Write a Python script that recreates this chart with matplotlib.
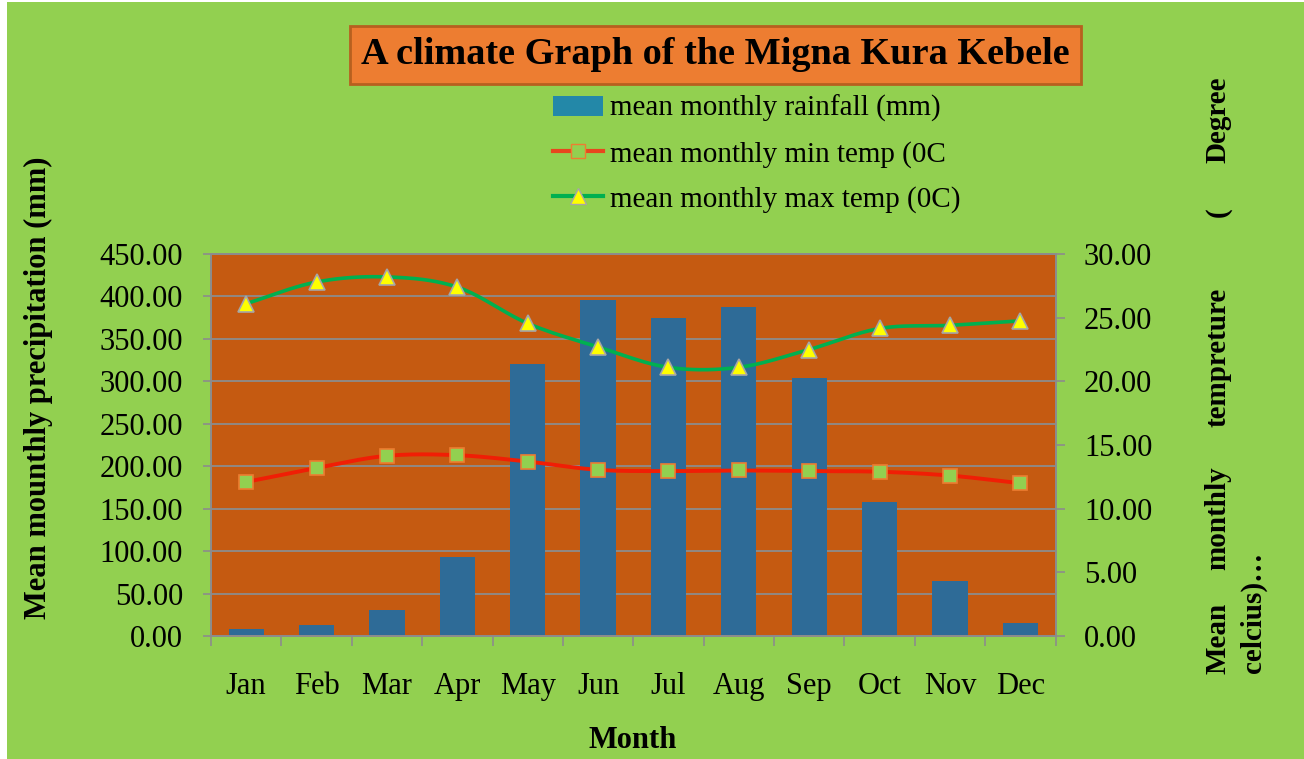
import numpy as np
import matplotlib
matplotlib.use("Agg")
import matplotlib.pyplot as plt
from matplotlib.patches import Rectangle, Patch
from matplotlib.lines import Line2D
from matplotlib.ticker import MultipleLocator, FormatStrFormatter, FixedLocator

plt.rcParams['font.family'] = ['Liberation Serif', 'DejaVu Serif']

months = ["Jan", "Feb", "Mar", "Apr", "May", "Jun", "Jul", "Aug", "Sep", "Oct", "Nov", "Dec"]
rainfall = [8, 12.5, 31, 93, 321, 396, 375, 388, 304, 158, 65, 15]
min_temp = [12.1, 13.2, 14.15, 14.2, 13.7, 13.05, 12.95, 13.0, 12.95, 12.9, 12.6, 12.0]
max_temp = [26.1, 27.8, 28.2, 27.4, 24.55, 22.7, 21.1, 21.1, 22.5, 24.15, 24.4, 24.75]

title = "A climate Graph of the Migna Kura Kebele"
lab_rain = "mean monthly rainfall (mm)"
lab_min = "mean monthly min temp (0C"
lab_max = "mean monthly max temp (0C)"

W, H = 1304, 759
fig = plt.figure(figsize=(W / 100, H / 100), dpi=100)
fig.patch.set_facecolor("white")
fig.patches.append(Rectangle((7 / W, 0), 1 - 7 / W, 1 - 2 / H, transform=fig.transFigure,
                             facecolor="#92D050", edgecolor="none", zorder=-10))


def smooth(xs, ys, n=20):
    """Catmull-Rom curve through the given points (for drawing the smoothed line)."""
    xs = np.asarray(xs, float)
    ys = np.asarray(ys, float)
    px = np.concatenate([[2 * xs[0] - xs[1]], xs, [2 * xs[-1] - xs[-2]]])
    py = np.concatenate([[2 * ys[0] - ys[1]], ys, [2 * ys[-1] - ys[-2]]])
    ox, oy = [], []
    t = np.linspace(0, 1, n, endpoint=False)
    for i in range(1, len(px) - 2):
        for arr, out in ((px, ox), (py, oy)):
            p0, p1, p2, p3 = arr[i - 1], arr[i], arr[i + 1], arr[i + 2]
            out.extend(0.5 * ((2 * p1) + (-p0 + p2) * t + (2 * p0 - 5 * p1 + 4 * p2 - p3) * t ** 2
                              + (-p0 + 3 * p1 - 3 * p2 + p3) * t ** 3))
    ox.append(xs[-1])
    oy.append(ys[-1])
    return np.array(ox), np.array(oy)


ax = fig.add_axes([211 / W, 1 - 636 / H, 844.5 / W, 382 / H])
ax.set_facecolor("#C55A11")
x = np.arange(len(months))
ax.bar(x, rainfall, width=0.5, color="#2E6B97", zorder=2)
ax.set_xlim(-0.5, len(months) - 0.5)
ax.set_ylim(0, 450)
ax.yaxis.set_major_locator(MultipleLocator(50))
ax.yaxis.set_major_formatter(FormatStrFormatter("%.2f"))
ax.grid(axis="y", color="#8C8C8C", lw=1.3, zorder=1)
ax.set_axisbelow(True)
ax.set_xticks(x)
ax.set_xticklabels(months)
ax.xaxis.set_minor_locator(FixedLocator(np.arange(-0.5, len(months), 1.0)))
ax.tick_params(axis="x", which="major", length=0, pad=26, labelsize=22)
ax.tick_params(axis="x", which="minor", length=7, width=1.2, color="#8C8C8C")
ax.tick_params(axis="y", length=6, width=1.2, color="#8C8C8C", pad=14, labelsize=22)
for s in ax.spines.values():
    s.set_color("#8C8C8C")
    s.set_linewidth(1.3)

ax2 = ax.twinx()
ax2.set_ylim(0, 30)
ax2.yaxis.set_major_locator(MultipleLocator(5))
ax2.yaxis.set_major_formatter(FormatStrFormatter("%.2f"))
ax2.tick_params(axis="y", length=6.5, width=1.2, color="#8C8C8C", pad=14, labelsize=22)
for s in ax2.spines.values():
    s.set_color("#8C8C8C")
    s.set_linewidth(1.3)

sx, sy = smooth(x, min_temp)
ax2.plot(sx, sy, color="#F01E05", lw=2.8, zorder=3)
ax2.plot(x, min_temp, ls="none", marker="s", ms=10, mfc="#92D050", mec="#ED7D31", mew=1.2, zorder=4)
sx, sy = smooth(x, max_temp)
ax2.plot(sx, sy, color="#00B050", lw=2.6, zorder=3)
ax2.plot(x, max_temp, ls="none", marker="^", ms=12, mfc="#FFFF00", mec="#A6A6A6", mew=1.2, zorder=4)

# Title
fig.text(715.5 / W, 1 - 55 / H, title, ha="center", va="center", fontsize=27.5, fontweight="bold",
         bbox=dict(boxstyle="square,pad=0.3", facecolor="#ED7D31", edgecolor="#B7601F", lw=2))

# Legend
handles = [
    Patch(facecolor="#2388A8", edgecolor="none"),
    Line2D([0], [0], color="#E8461E", lw=3, marker="s", ms=10, mfc="#92D050", mec="#ED7D31"),
    Line2D([0], [0], color="#00B050", lw=3, marker="^", ms=11, mfc="#FFFF00", mec="#A6A6A6"),
]
fig.legend(handles, [lab_rain, lab_min, lab_max], loc="upper left",
           bbox_to_anchor=(553 / W, 1 - 95 / H), frameon=False, fontsize=21,
           borderpad=0, borderaxespad=0, handlelength=1.7, handleheight=0.7,
           handletextpad=0.25, labelspacing=0.63)

# Axis titles
fig.text(633 / W, 1 - 740 / H, "Month", ha="center", va="center", fontsize=22, fontweight="bold")
fig.text(38 / W, 1 - 388 / H, "Mean mounthly precipitation (mm)", ha="center", va="center",
         rotation=90, fontsize=22, fontweight="bold")

right_words = [("Mean", 638), ("monthly", 518), ("tempreture", 357), ("(", 212), ("Degree", 120)]
for w, yc in right_words:
    fig.text(1218 / W, 1 - yc / H, w, ha="center", va="center", rotation=90,
             fontsize=21, fontweight="bold")
fig.text(1253 / W, 1 - 673 / H, "celcius)\u2026", ha="center", va="bottom", rotation=90,
         fontsize=21, fontweight="bold")

fig.savefig("out.png", dpi=100, facecolor=fig.get_facecolor())
